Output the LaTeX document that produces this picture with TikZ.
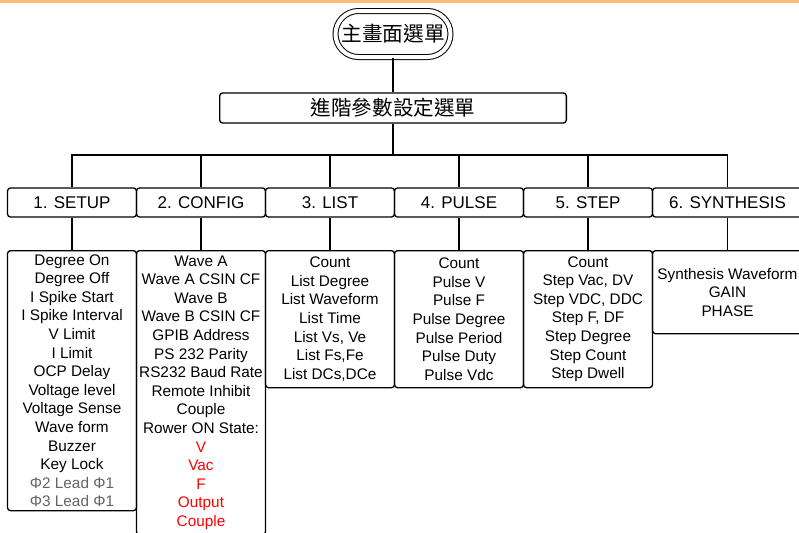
\documentclass[tikz,border=0pt]{standalone}
\usepackage{fontspec}
\setmainfont{Liberation Sans}
\newfontfamily\cjkfont{Noto Sans CJK TC}
\definecolor{topline}{RGB}{247,190,120}
\definecolor{leadgray}{RGB}{100,100,100}

\begin{document}
\begin{tikzpicture}[x=0.75pt,y=-0.75pt,
  menubox/.style={draw,line width=1pt,rounded corners=2.25pt,minimum width=96.75pt,minimum height=21.75pt,inner sep=0pt,font=\fontsize{12.75}{15}\selectfont},
  itembox/.style={draw,line width=1pt,rounded corners=2.25pt,anchor=north,minimum width=96.75pt,inner sep=0pt,align=center,font=\fontsize{11.5}{13.95}\selectfont},
  link/.style={line width=1pt}]
  \useasboundingbox (0,0) rectangle (799,532);
  \fill[topline] (0,0) rectangle (799,2.5);

  \node[draw,double,double distance=3pt,line width=0.75pt,rounded corners=17.25pt,minimum width=86.25pt,minimum height=34.5pt,inner sep=0pt,font=\cjkfont\fontsize{15.5}{16}\selectfont] (main) at (393,34) {主畫面選單};
  \node[draw,line width=1pt,rounded corners=2.25pt,minimum width=260pt,minimum height=22.5pt,inner sep=0pt,font=\cjkfont\fontsize{15.4}{16}\selectfont] (adv) at (393,108) {進階參數設定選單};
  \coordinate (bus) at (393,155);

  \node[menubox] (setup) at (72,202.5) {1. SETUP};
  \node[menubox] (config) at (201,202.5) {2. CONFIG};
  \node[menubox] (list) at (330,202.5) {3. LIST};
  \node[menubox] (pulse) at (459,202.5) {4. PULSE};
  \node[menubox] (step) at (588,202.5) {5. STEP};
  \node[menubox,minimum width=112.5pt] (synth) at (727.5,202.5) {6. SYNTHESIS};

  \node[itembox,minimum height=195pt] (setupitems) at (72,250) {Degree On\\Degree Off\\I Spike Start\\I Spike Interval\\V Limit\\I Limit\\OCP Delay\\Voltage level\\Voltage Sense\\Wave form\\Buzzer\\Key Lock\\\textcolor{leadgray}{Φ2 Lead Φ1}\\\textcolor{leadgray}{Φ3 Lead Φ1}};
  \node[itembox,minimum height=213pt] (configitems) at (201,250) {Wave A\\Wave A CSIN CF\\Wave B\\Wave B CSIN CF\\GPIB Address\\PS 232 Parity\\RS232 Baud Rate\\Remote Inhibit\\Couple\\Rower ON State:\\\textcolor{red}{V}\\\textcolor{red}{Vac}\\\textcolor{red}{F}\\\textcolor{red}{Output}\\\textcolor{red}{Couple}};
  \node[itembox,minimum height=102.75pt] (listitems) at (330,250) {Count\\List Degree\\List Waveform\\List Time\\List Vs, Ve\\List Fs,Fe\\List DCs,DCe};
  \node[itembox,minimum height=102.75pt] (pulseitems) at (459,250) {Count\\Pulse V\\Pulse F\\Pulse Degree\\Pulse Period\\Pulse Duty\\Pulse Vdc};
  \node[itembox,minimum height=102.75pt] (stepitems) at (588,250) {Count\\Step Vac, DV\\Step VDC, DDC\\Step F, DF\\Step Degree\\Step Count\\Step Dwell};
  \node[itembox,minimum height=62.25pt,minimum width=112.5pt] (synthitems) at (727.5,250) {Synthesis Waveform\\GAIN\\PHASE};

  % tree links
  \draw[link] (main.south) -- (adv.north);
  \draw[link] (adv.south) -- (bus);
  \draw[link] (bus) -| (setup.north);
  \draw[link] (bus) -| (config.north);
  \draw[link] (bus) -| (list.north);
  \draw[link] (bus) -| (pulse.north);
  \draw[link] (bus) -| (step.north);
  \draw[link] (bus) -| (synth.north);

  \draw[link] (setup) -- (setupitems);
  \draw[link] (config) -- (configitems);
  \draw[link] (list) -- (listitems);
  \draw[link] (pulse) -- (pulseitems);
  \draw[link] (step) -- (stepitems);
  \draw[link] (synth) -- (synthitems);
\end{tikzpicture}
\end{document}
